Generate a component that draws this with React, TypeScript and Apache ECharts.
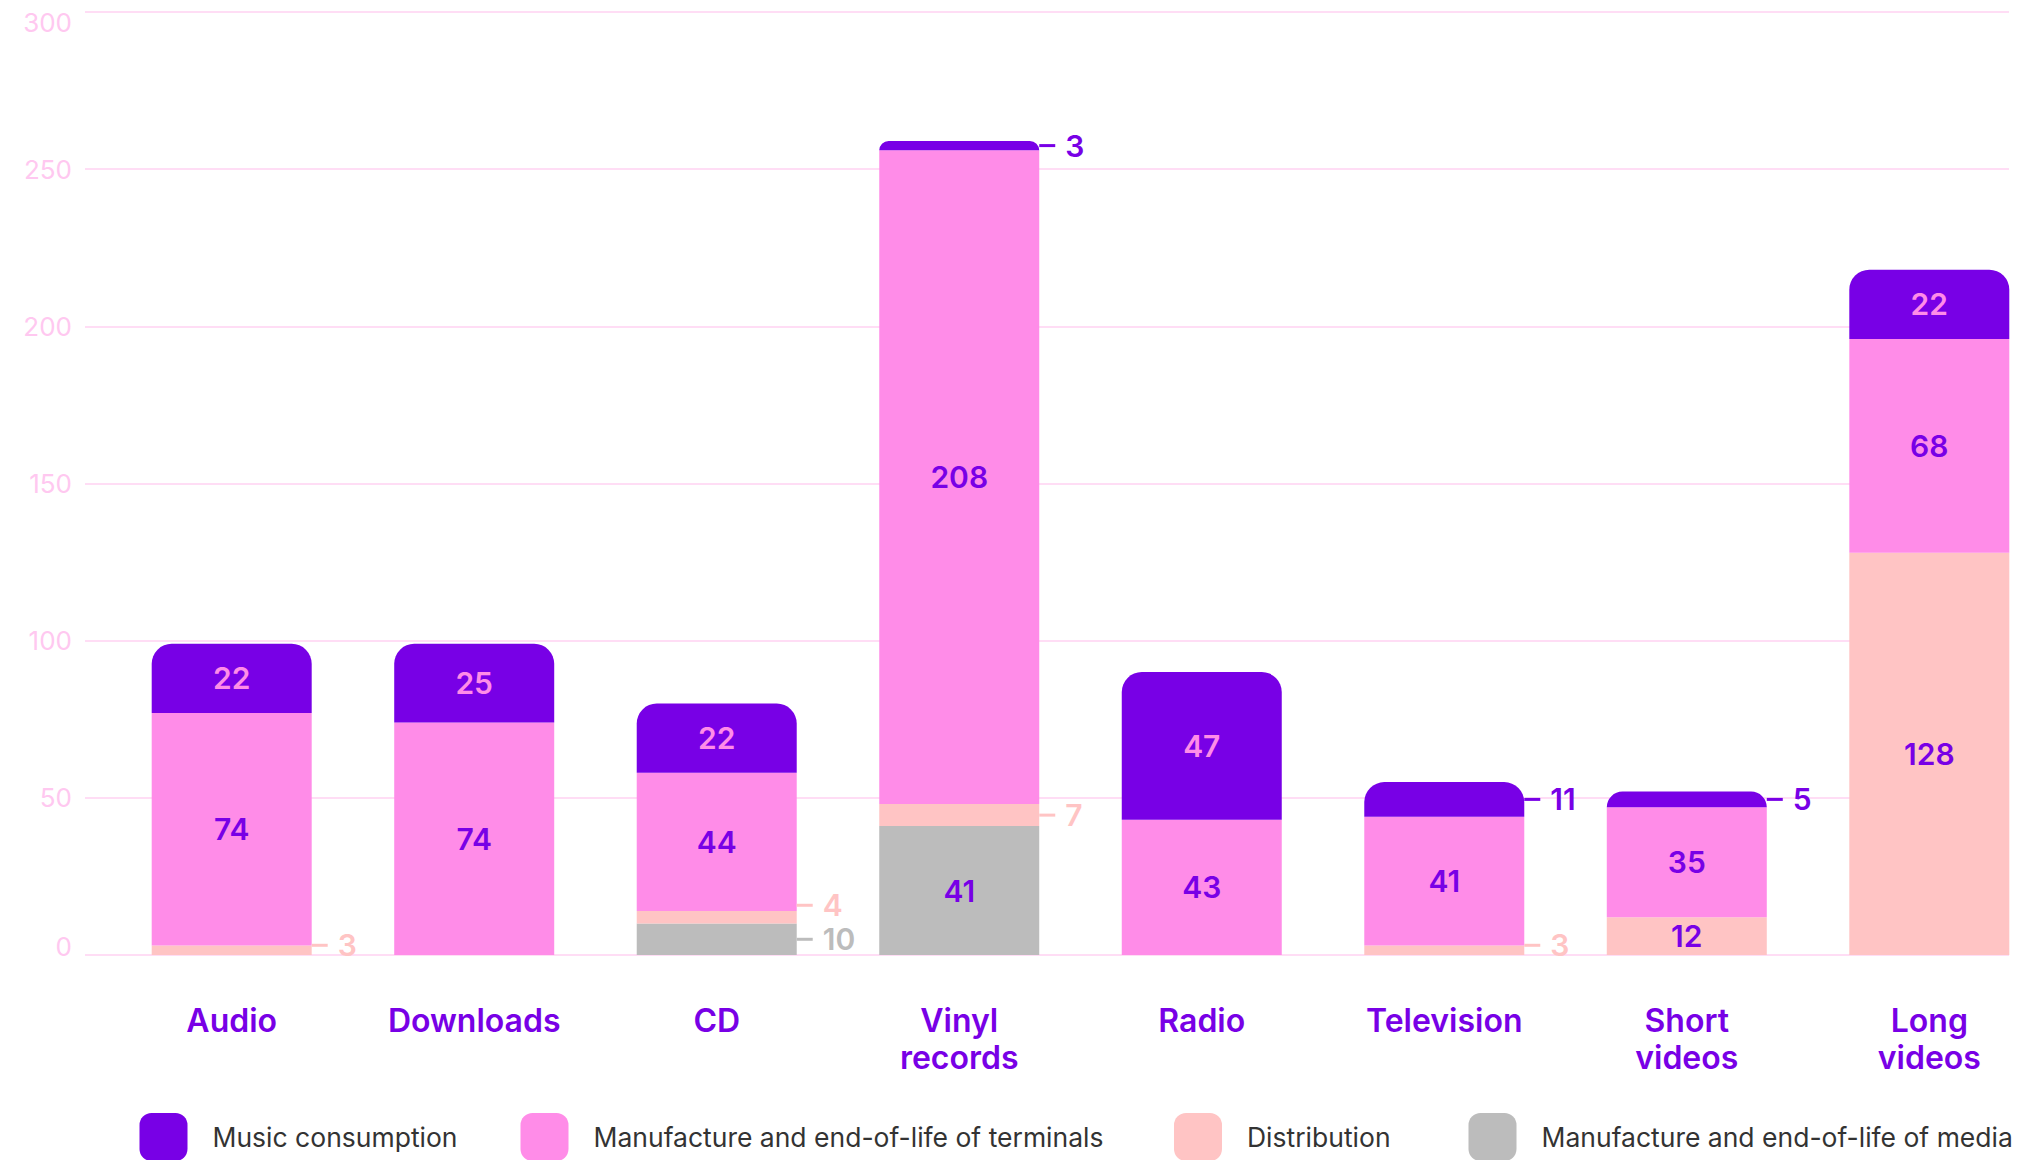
import React, { useEffect, useRef } from 'react';
import * as echarts from 'echarts';

const categories = ['Audio', 'Downloads', 'CD', 'Vinyl\nrecords', 'Radio', 'Television', 'Short\nvideos', 'Long\nvideos'];
const mediaValues = [0, 0, 10, 41, 0, 0, 0, 0];
const distributionValues = [3, 0, 4, 7, 0, 3, 12, 128];
const terminalValues = [74, 74, 44, 208, 43, 41, 35, 68];
const musicValues = [22, 25, 22, 3, 47, 11, 5, 22];

const seriesNames = [
  'Music consumption',
  'Manufacture and end-of-life of terminals',
  'Distribution',
  'Manufacture and end-of-life of media',
];

const Y_MIN = 0;
const Y_MAX = 300;
const Y_STEP = 50;

const PURPLE = '#7800e6';
const PINK = '#ff8ce8';
const SALMON = '#ffc4c4';
const GRAY = '#bcbcbc';
const FONT = 'Inter, "Noto Sans", sans-serif';

// small values get their label on the right side with a short leader
const OUTSIDE_LIMIT = 12;
// per-item vertical nudges of side labels (layout, not data)
const sideNudge: Record<string, number> = { 'dist-0': -5, 'dist-2': -12, 'dist-5': -5 };
// legend item left positions (layout)
const legendLefts = [139.5, 520.5, 1174, 1468.5];

function buildData(values: number[], key: string, insideColor: string, sideColor: string) {
  return values.map((v, i) => {
    if (!v) return '-';
    if (v < OUTSIDE_LIMIT) {
      return {
        value: v,
        label: {
          show: true,
          position: 'right',
          distance: 0,
          offset: [0, sideNudge[`${key}-${i}`] || 0],
          formatter: `{l| }{v|${v}}`,
          rich: {
            l: { width: 16, height: 3, lineHeight: 3, backgroundColor: sideColor },
            v: { fontSize: 30, fontWeight: 600, color: sideColor, fontFamily: FONT, padding: [0, 0, 0, 10] },
          },
        },
      };
    }
    return {
      value: v,
      label: {
        show: true,
        position: 'inside',
        color: insideColor,
        fontSize: 30,
        fontWeight: 600,
        fontFamily: FONT,
      },
    };
  });
}

export default function App() {
  const ref = useRef<HTMLDivElement>(null);

  useEffect(() => {
    document.body.style.margin = '0';
    document.body.style.overflow = 'hidden';
    if (!ref.current) return;
    const chart = echarts.init(ref.current, undefined, { renderer: 'svg' });

    const barBase = {
      type: 'bar',
      stack: 'total',
      barWidth: 160,
      clip: false,
      xAxisIndex: 0,
      yAxisIndex: 0,
      emphasis: { disabled: true },
    };

    const legends = seriesNames.map((name, i) => ({
      left: legendLefts[i],
      top: 1113,
      padding: 0,
      itemWidth: 48,
      itemHeight: 48,
      icon: 'roundRect',
      selectedMode: false,
      data: [name],
      textStyle: { color: '#333333', fontSize: 26.5, fontFamily: FONT, padding: [0, 0, 0, 20] },
    }));

    chart.setOption({
      animation: false,
      backgroundColor: '#ffffff',
      textStyle: { fontFamily: FONT },
      grid: [
        // bar grid: category centres sit on the grid edges (boundaryGap false)
        { left: 231.7, right: 95.7, top: 12, bottom: 205, containLabel: false },
        // gridline / y-label grid
        { left: 85, right: 16, top: 12, bottom: 205, containLabel: false },
      ],
      xAxis: [
        {
          type: 'category',
          gridIndex: 0,
          data: categories,
          boundaryGap: false,
          axisLine: { show: false },
          axisTick: { show: false },
          splitLine: { show: false },
          axisLabel: {
            interval: 0,
            margin: 47,
            color: PURPLE,
            fontSize: 32,
            fontWeight: 600,
            lineHeight: 37,
            fontFamily: FONT,
          },
        },
        { type: 'value', gridIndex: 1, min: 0, max: 1, show: false },
      ],
      yAxis: [
        { type: 'value', gridIndex: 0, min: Y_MIN, max: Y_MAX, interval: Y_STEP, show: false },
        {
          type: 'value',
          gridIndex: 1,
          min: Y_MIN,
          max: Y_MAX,
          interval: Y_STEP,
          axisLine: { show: false },
          axisTick: { show: false },
          splitLine: { show: true, lineStyle: { color: '#ffd2f2', width: 1.5 } },
          axisLabel: {
            margin: 13,
            color: '#ffc8f0',
            fontSize: 26,
            fontFamily: FONT,
            formatter: (v: number) =>
              v === Y_MAX ? `{t|${v}}` : v === Y_MIN ? `{b|${v}}` : `${v}`,
            rich: {
              t: { fontSize: 26, color: '#ffc8f0', fontFamily: FONT, padding: [21, 0, 0, 0] },
              b: { fontSize: 26, color: '#ffc8f0', fontFamily: FONT, padding: [0, 0, 18, 0] },
            },
          },
        },
      ],
      legend: legends,
      series: [
        {
          ...barBase,
          name: seriesNames[3],
          itemStyle: { color: GRAY },
          data: buildData(mediaValues, 'media', PURPLE, GRAY),
        },
        {
          ...barBase,
          name: seriesNames[2],
          itemStyle: { color: SALMON },
          data: buildData(distributionValues, 'dist', PURPLE, SALMON),
        },
        {
          ...barBase,
          name: seriesNames[1],
          itemStyle: { color: PINK },
          data: buildData(terminalValues, 'term', PURPLE, PINK),
        },
        {
          ...barBase,
          name: seriesNames[0],
          itemStyle: { color: PURPLE, borderRadius: [20, 20, 0, 0] },
          data: buildData(musicValues, 'music', PINK, PURPLE),
        },
      ],
    });

    return () => chart.dispose();
  }, []);

  return <div ref={ref} style={{ width: 2025, height: 1160 }} />;
}
